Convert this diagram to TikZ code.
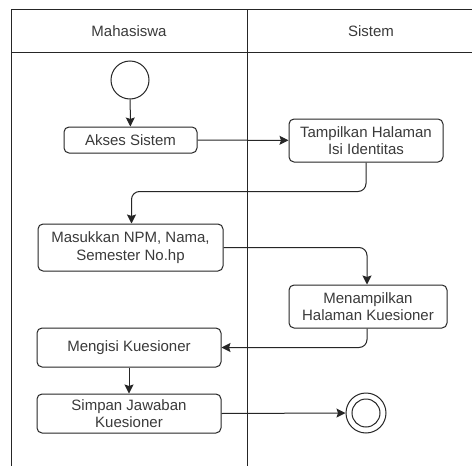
\documentclass[tikz,border=0pt]{standalone}
\usepackage{fontspec}
\setmainfont{Liberation Sans}
\usetikzlibrary{arrows.meta}
\definecolor{ink}{HTML}{262626}
\definecolor{txt}{HTML}{3a3a3a}
\begin{document}
\begin{tikzpicture}[x=1pt,y=-1pt,
  every node/.style={font=\fontsize{15}{17.5}\selectfont, text=txt},
  act/.style={draw=ink, line width=1pt, rounded corners=5pt, align=center,
    inner sep=0pt, fill=white},
  arr/.style={draw=ink, line width=1pt,
    -{Stealth[length=9pt,width=9pt,inset=1.5pt]}},
  lane/.style={draw=ink, line width=1pt}]
\useasboundingbox (0,0) rectangle (472,466);
\fill[white] (0,0) rectangle (472,466);

% swimlane frame
\draw[lane] (11,466) -- (11,9) -- (472,9);
\draw[lane] (11,52) -- (472,52);
\draw[lane] (247,9) -- (247,466);
\node (hmhs) at (129,31) {Mahasiswa};
\node (hsis) at (371,31) {Sistem};

% activities
\node[circle, draw=ink, line width=1pt, minimum size=38pt, inner sep=0pt] (start) at (130,80) {};
\node[act, minimum width=133pt, minimum height=26pt] (akses) at (130.5,140) {Akses Sistem};
\node[act, minimum width=154pt, minimum height=43pt] (tampil) at (366,140.5) {Tampilkan Halaman\\Isi Identitas};
\node[act, minimum width=185pt, minimum height=47pt] (masuk) at (130.5,247.5) {Masukkan NPM, Nama,\\Semester No.hp};
\node[act, minimum width=158pt, minimum height=43pt] (menamp) at (368,306.5) {Menampilkan\\Halaman Kuesioner};
\node[act, minimum width=184pt, minimum height=39pt] (mengisi) at (129,347.5) {Mengisi Kuesioner};
\node[act, minimum width=184pt, minimum height=39pt] (simpan) at (129,413.5) {Simpan Jawaban\\Kuesioner};
\node[circle, draw=ink, line width=1pt, minimum size=40pt, inner sep=0pt] (stop) at (366,413) {};
\node[circle, draw=ink, line width=1pt, minimum size=28pt, inner sep=0pt] (stopin) at (366,413) {};

% flows
\draw[arr] (start) -- (akses);
\draw[arr] (akses) -- (tampil);
\draw[arr, rounded corners=8pt] (tampil.south) |- ([xshift=1pt,yshift=32pt]masuk.north) -- ([xshift=1pt]masuk.north);
\draw[arr, rounded corners=8pt] (masuk.east) -| ([xshift=-1pt]menamp.north);
\draw[arr, rounded corners=8pt] ([xshift=-1pt]menamp.south) |- (mengisi.east);
\draw[arr] (mengisi) -- (simpan);
\draw[arr] (simpan.east) -- (stop.west);
\end{tikzpicture}
\end{document}
